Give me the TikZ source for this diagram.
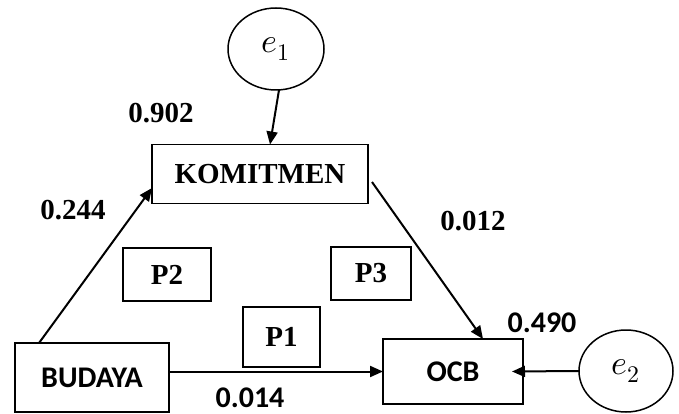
\documentclass[tikz,border=0pt]{standalone}
\usepackage{fontspec}
\usepackage{unicode-math}
\newfontfamily\timesbf{Liberation Serif}
\newfontfamily\calibri{Carlito}
\usetikzlibrary{shapes.geometric, arrows.meta, calc}

\tikzset{
    varbox/.style={draw, line width=1.2pt, inner sep=0pt},
    serifbox/.style={varbox, font=\fontsize{29}{31}\selectfont\timesbf\bfseries},
    sansbox/.style={varbox, font=\fontsize{30}{32}\selectfont\calibri\bfseries},
    errnode/.style={draw, ellipse, line width=1.5pt, inner sep=0pt, font=\fontsize{34}{36}\selectfont},
    seriflab/.style={font=\fontsize{29}{31}\selectfont\timesbf\bfseries, inner sep=0pt},
    sanslab/.style={font=\fontsize{30}{32}\selectfont\calibri\bfseries, inner sep=0pt},
    path/.style={line width=2pt, -{Triangle[length=13pt,width=11pt]}}
}

\begin{document}
\begin{tikzpicture}[x=1pt, y=-1pt, every node/.style={outer sep=0pt}]
    \useasboundingbox (0,0) rectangle (679,414);

    % Error terms
    \node[errnode, minimum width=96, minimum height=82] (e1) at (276,49) {$e_1$};
    \node[errnode, minimum width=94, minimum height=82] (e2) at (626,371) {$e_2$};

    % Variables
    \node[serifbox, minimum width=216, minimum height=59] (komitmen) at (260,174) {KOMITMEN};
    \node[sansbox, minimum width=154, minimum height=69] (budaya) at (92,377.5) {BUDAYA};
    \node[sansbox, minimum width=140, minimum height=65] (ocb) at (453,371.5) {OCB};

    % Hypotheses
    \node[serifbox, minimum width=88, minimum height=53] (p2) at (167,274.5) {P2};
    \node[serifbox, minimum width=80, minimum height=53] (p3) at (371,273.5) {P3};
    \node[serifbox, minimum width=77, minimum height=60] (p1) at (281.5,337) {P1};

    % Paths
    \draw[path] ([xshift=3pt]e1.south) -- ([xshift=10pt]komitmen.north);
    \draw[path] ([xshift=24pt]budaya.north west) -- ([yshift=-14pt]komitmen.west);
    \draw[path] ([xshift=4pt,yshift=-8pt]komitmen.east) -- ([xshift=30pt]ocb.north);
    \draw[path] (budaya.east |- ocb.west) -- (ocb.west);
    \draw[path] (e2.west) -- ([xshift=-11pt]ocb.east);

    % Coefficients
    \node[seriflab] (c902) at (161,113) {0.902};
    \node[seriflab] (c244) at (73,210) {0.244};
    \node[seriflab] (c012) at (473,221) {0.012};
    \node[sanslab] (c490) at (542,323) {0.490};
    \node[sanslab] (c014) at (250,398) {0.014};
\end{tikzpicture}
\end{document}
